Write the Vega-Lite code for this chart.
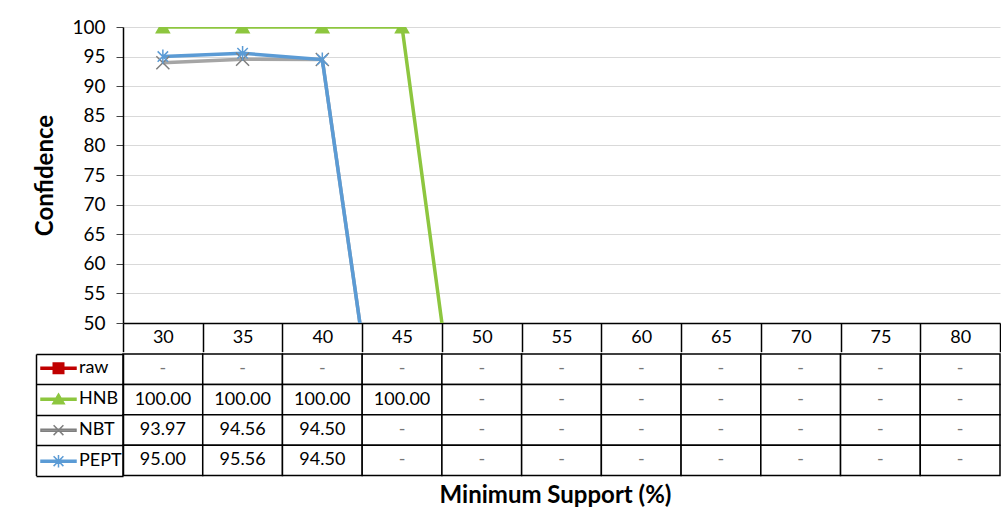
{
  "$schema": "https://vega.github.io/schema/vega-lite/v6.json",
  "padding": {"left": 33, "top": 18, "right": 0, "bottom": 0},
  "config": {"font": "Lato", "view": {"stroke": null}},
  "data": {"values": [
    {"series": "raw", "support": 30, "value": 0}, {"series": "raw", "support": 35, "value": 0}, {"series": "raw", "support": 40, "value": 0}, {"series": "raw", "support": 45, "value": 0}, {"series": "raw", "support": 50, "value": 0}, {"series": "raw", "support": 55, "value": 0}, {"series": "raw", "support": 60, "value": 0}, {"series": "raw", "support": 65, "value": 0}, {"series": "raw", "support": 70, "value": 0}, {"series": "raw", "support": 75, "value": 0}, {"series": "raw", "support": 80, "value": 0},
    {"series": "HNB", "support": 30, "value": 100}, {"series": "HNB", "support": 35, "value": 100}, {"series": "HNB", "support": 40, "value": 100}, {"series": "HNB", "support": 45, "value": 100}, {"series": "HNB", "support": 50, "value": 0}, {"series": "HNB", "support": 55, "value": 0}, {"series": "HNB", "support": 60, "value": 0}, {"series": "HNB", "support": 65, "value": 0}, {"series": "HNB", "support": 70, "value": 0}, {"series": "HNB", "support": 75, "value": 0}, {"series": "HNB", "support": 80, "value": 0},
    {"series": "NBT", "support": 30, "value": 93.97}, {"series": "NBT", "support": 35, "value": 94.56}, {"series": "NBT", "support": 40, "value": 94.5}, {"series": "NBT", "support": 45, "value": 0}, {"series": "NBT", "support": 50, "value": 0}, {"series": "NBT", "support": 55, "value": 0}, {"series": "NBT", "support": 60, "value": 0}, {"series": "NBT", "support": 65, "value": 0}, {"series": "NBT", "support": 70, "value": 0}, {"series": "NBT", "support": 75, "value": 0}, {"series": "NBT", "support": 80, "value": 0},
    {"series": "PEPT", "support": 30, "value": 95.0}, {"series": "PEPT", "support": 35, "value": 95.56}, {"series": "PEPT", "support": 40, "value": 94.5}, {"series": "PEPT", "support": 45, "value": 0}, {"series": "PEPT", "support": 50, "value": 0}, {"series": "PEPT", "support": 55, "value": 0}, {"series": "PEPT", "support": 60, "value": 0}, {"series": "PEPT", "support": 65, "value": 0}, {"series": "PEPT", "support": 70, "value": 0}, {"series": "PEPT", "support": 75, "value": 0}, {"series": "PEPT", "support": 80, "value": 0}
  ]},
  "spacing": 0,
  "resolve": {"scale": {"shape": "independent", "fill": "independent", "stroke": "independent", "color": "independent"}},
  "vconcat": [
    {
      "width": 877,
      "height": 296,
      "encoding": {
        "x": {"field": "support", "type": "ordinal", "scale": {"type": "band", "paddingInner": 0, "paddingOuter": 0},
          "axis": {"orient": "bottom", "title": null, "tickBand": "extent", "tickSize": 28.7, "tickColor": "black", "tickWidth": 1.5, "domainColor": "black", "domainWidth": 1.5, "labelFontSize": 18, "labelColor": "black", "labelBaseline": "middle", "labelPadding": -14.4, "labelAngle": 0, "grid": false}},
        "y": {"field": "value", "type": "quantitative", "scale": {"domain": [50, 100], "zero": false, "nice": false},
          "axis": {"values": [50, 55, 60, 65, 70, 75, 80, 85, 90, 95, 100], "labelOverlap": false, "title": "Confidence", "titleFontSize": 24, "titleFontWeight": "bold", "titleColor": "black", "titlePadding": 14, "labelFontSize": 19, "labelColor": "black", "labelPadding": 11, "tickSize": 7, "tickColor": "#444", "domainColor": "black", "domainWidth": 1.5, "gridColor": "#d9d9d9", "gridWidth": 1}}
      },
      "layer": [
        {
          "mark": {"type": "line", "strokeWidth": 3.5, "clip": true},
          "encoding": {
            "color": {"field": "series", "type": "nominal", "scale": {"domain": ["raw", "HNB", "NBT", "PEPT"], "range": ["#c00000", "#8dc63f", "#a5a5a5", "#5b9bd5"]}, "legend": null}
          }
        },
        {
          "mark": {"type": "point", "filled": true, "clip": true, "size": 170, "strokeWidth": 1.5, "opacity": 1},
          "encoding": {
            "shape": {"field": "series", "type": "nominal", "scale": {"domain": ["raw", "HNB", "NBT", "PEPT"], "range": ["square", "triangle-up", "M-1,-1L1,1M-1,1L1,-1", "M-0.8,-0.8L0.8,0.8M-0.8,0.8L0.8,-0.8M0,-1.1V1.1"]}, "legend": null},
            "fill": {"field": "series", "type": "nominal", "scale": {"domain": ["raw", "HNB", "NBT", "PEPT"], "range": ["#c00000", "#8dc63f", "#7f7f7f", "#5b9bd5"]}, "legend": null},
            "stroke": {"field": "series", "type": "nominal", "scale": {"domain": ["raw", "HNB", "NBT", "PEPT"], "range": ["#c00000", "#8dc63f", "#7f7f7f", "#5b9bd5"]}, "legend": null}
          }
        }
      ]
    },
    {
      "width": 877,
      "height": 121.6,
      "resolve": {"axis": {"y": "independent"}},
      "layer": [
        {
          "mark": {"type": "point", "filled": true, "size": 1225, "strokeWidth": 1.5},
          "encoding": {
            "x": {"field": "support", "type": "ordinal", "scale": {"type": "band", "paddingInner": 0, "paddingOuter": 0}},
            "y": {"field": "series", "type": "nominal", "scale": {"domain": ["raw", "HNB", "NBT", "PEPT"], "paddingInner": 0, "paddingOuter": 0},
              "axis": {"orient": "left", "offset": 87, "title": null, "labels": false, "ticks": false, "grid": false, "domainColor": "black", "domainWidth": 1.5}},
            "shape": {"field": "series", "type": "nominal", "scale": {"domain": ["raw", "HNB", "NBT", "PEPT"], "range": [
              "M-1,-0.06H1V0.06H-1ZM-0.3,-0.3H0.3V0.3H-0.3Z",
              "M-1,-0.06H1V0.06H-1ZM0,-0.3L0.33,0.26H-0.33Z",
              "M-1,-0.06H1V0.06H-1ZM-0.28,-0.28L0.28,0.28M-0.28,0.28L0.28,-0.28",
              "M-1,-0.06H1V0.06H-1ZM-0.28,-0.28L0.28,0.28M-0.28,0.28L0.28,-0.28M0,-0.36V0.36"]},
              "legend": {"orient": "none", "legendX": -83, "legendY": -1, "title": null, "clipHeight": 30.4, "rowPadding": 0, "padding": 0, "symbolSize": 1225, "symbolStrokeWidth": 1.5, "symbolOpacity": 1, "labelFontSize": 18, "labelColor": "black", "labelOffset": 2, "labelFont": "Lato"}},
            "fill": {"field": "series", "type": "nominal", "scale": {"domain": ["raw", "HNB", "NBT", "PEPT"], "range": ["#c00000", "#8dc63f", "#a5a5a5", "#5b9bd5"]}},
            "stroke": {"field": "series", "type": "nominal", "scale": {"domain": ["raw", "HNB", "NBT", "PEPT"], "range": ["#c00000", "#8dc63f", "#7f7f7f", "#5b9bd5"]}}
          }
        },
        {
          "mark": {"type": "rect", "fill": "white", "stroke": "black", "strokeWidth": 1.5},
          "encoding": {
            "x": {"field": "support", "type": "ordinal", "scale": {"type": "band", "paddingInner": 0, "paddingOuter": 0},
              "axis": {"orient": "bottom", "title": "Minimum  Support (%)", "titleX": 432, "labels": false, "ticks": false, "domain": false, "grid": false, "titleFontSize": 24, "titleFontWeight": "bold", "titleColor": "black", "titlePadding": 8}},
            "y": {"field": "series", "type": "nominal", "scale": {"domain": ["raw", "HNB", "NBT", "PEPT"], "paddingInner": 0, "paddingOuter": 0},
              "axis": {"orient": "left", "title": null, "labels": false, "grid": false, "tickBand": "extent", "tickSize": 87, "tickColor": "black", "tickWidth": 1.5, "domainColor": "black", "domainWidth": 1.5}}
          }
        },
        {
          "mark": {"type": "text", "fontSize": 18, "baseline": "middle", "align": "center"},
          "encoding": {
            "x": {"field": "support", "type": "ordinal", "scale": {"type": "band", "paddingInner": 0, "paddingOuter": 0}},
            "y": {"field": "series", "type": "nominal", "scale": {"domain": ["raw", "HNB", "NBT", "PEPT"], "paddingInner": 0, "paddingOuter": 0}, "axis": null},
            "text": {"field": "value", "type": "quantitative", "format": ".2f", "condition": {"test": "datum.value === 0", "value": "-"}},
            "color": {"condition": {"test": "datum.value === 0", "value": "#777777"}, "value": "black"}
          }
        }
      ]
    }
  ]
}
